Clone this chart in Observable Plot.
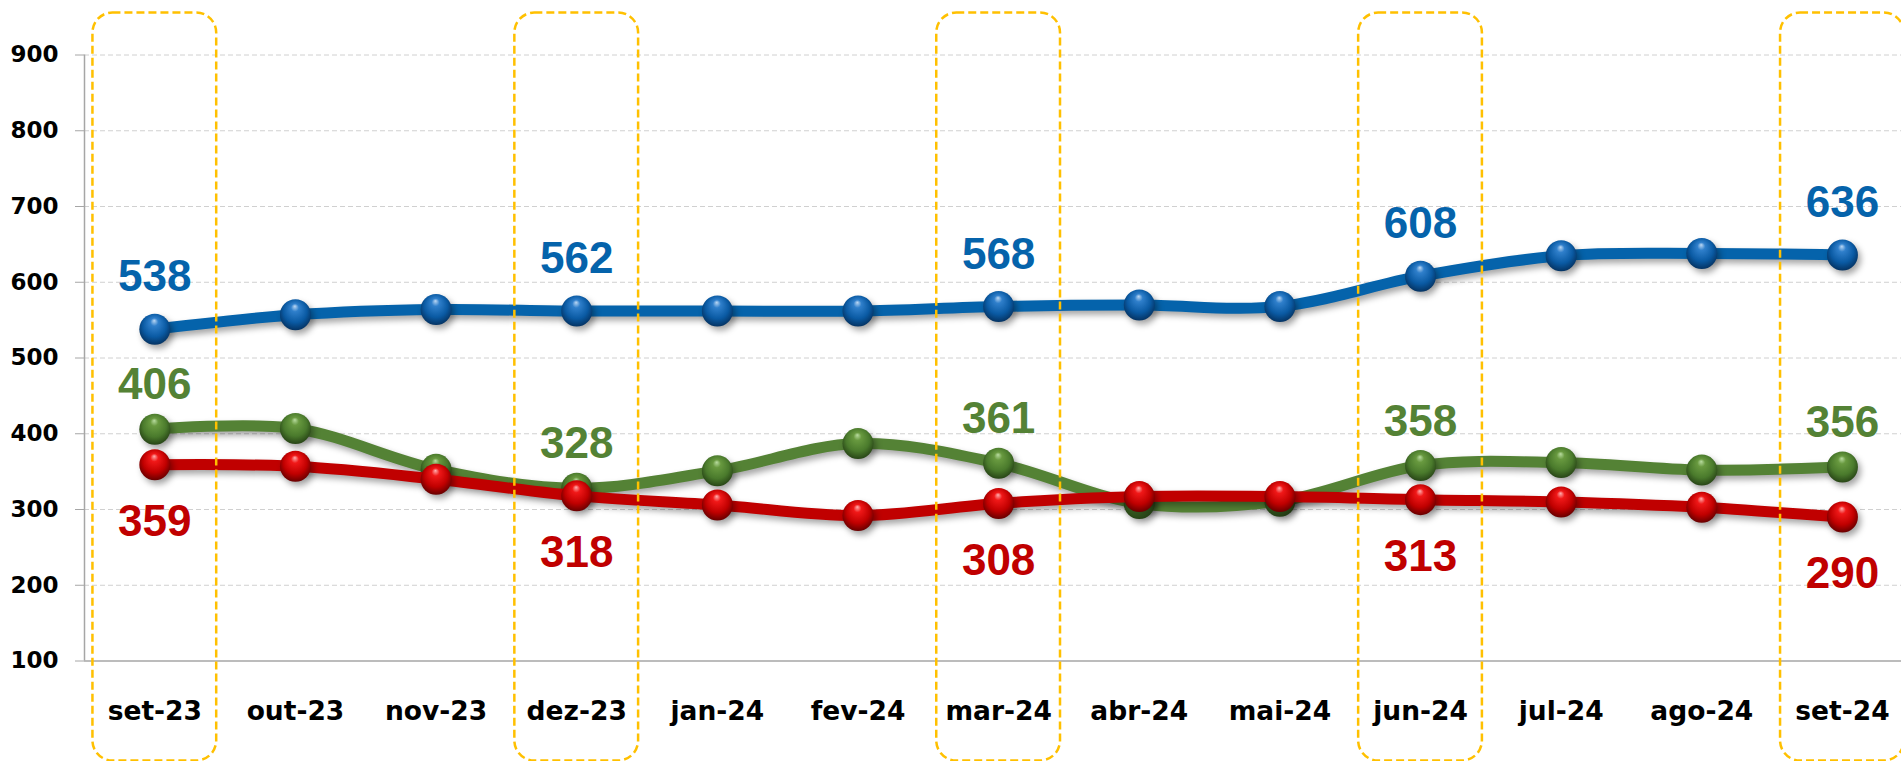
<!DOCTYPE html>
<html><head><meta charset="utf-8">
<script src="https://cdn.jsdelivr.net/npm/d3@7"></script>
<script src="https://cdn.jsdelivr.net/npm/@observablehq/plot@0.6"></script>
<style>html,body{margin:0;padding:0;background:#fff;overflow:hidden}</style>
</head><body><div id="chart"></div>
<script>
const months = ["set-23","out-23","nov-23","dez-23","jan-24","fev-24","mar-24","abr-24","mai-24","jun-24","jul-24","ago-24","set-24"];
const blueValues  = [538,557,564,562,562,562,568,570,568,608,635,638,636];
const greenValues = [406,407,353,328,351,387,361,308,311,358,362,352,356];
const redValues   = [359,357,340,318,306,292,308,317,317,313,310,303,290];
const highlightIdx = [0,3,6,9,12];
const yTicks = [100,200,300,400,500,600,700,800,900];

const series = [
  {key:"blue",  values: blueValues,  color:"#0563AB", grad:"gBlue",  dy:-52},
  {key:"green", values: greenValues, color:"#548235", grad:"gGreen", dy:-44},
  {key:"red",   values: redValues,   color:"#C00000", grad:"gRed",   dy:57}
];

const marks = [
  Plot.gridY(yTicks.slice(1), {stroke:"#d0d0d0", strokeOpacity:1, strokeDasharray:"5,3", strokeWidth:1}),
  Plot.ruleY([100], {stroke:"#a6a6a6", strokeWidth:1.5}),
  Plot.ruleX([-0.5], {y1:100, y2:900, stroke:"#a6a6a6", strokeWidth:1.5}),
  Plot.axisY({ticks:yTicks, tickSize:9, tickPadding:17, stroke:"#a6a6a6", fill:"#000", fontSize:23, fontWeight:"bold", fontFamily:"DejaVu Sans", label:null}),
  Plot.axisX({ticks:d3.range(months.length), tickFormat:i=>months[i], tickSize:0, tickPadding:40, fill:"#000", fontSize:26.5, fontWeight:"bold", fontFamily:"DejaVu Sans", label:null})
];
for (const s of series) {
  const data = s.values.map((v,i)=>({i, v}));
  marks.push(Plot.line(data, {x:"i", y:"v", stroke:s.color, strokeWidth:11, curve:"cardinal"}));
  marks.push(Plot.dot(data, {x:"i", y:"v", r:15.5, fill:`url(#${s.grad})`, stroke:"none"}));
}
marks.push(Plot.rect(highlightIdx, {x1:i=>i-0.44, x2:i=>i+0.44, insetTop:-42, insetBottom:-100, rx:20, fill:"none", stroke:"#FFC000", strokeWidth:2.5, strokeDasharray:"8,4"}));
for (const s of series) {
  marks.push(Plot.text(highlightIdx, {x:i=>i, y:i=>s.values[i], text:i=>String(s.values[i]), dy:s.dy, fill:s.color, fontSize:44, fontWeight:"bold", fontFamily:"Liberation Sans, Arial, sans-serif"}));
}

const svg = Plot.plot({
  width:1901, height:761,
  marginLeft:84, marginRight:0, marginTop:54.5, marginBottom:100.5,
  x:{type:"linear", domain:[-0.5, 12.42]},
  y:{domain:[100,900]},
  style:{background:"#fff", overflow:"visible"},
  marks
});

const defs = d3.select(svg).insert("defs", ":first-child");
function grad(id, c0, c1, c2, c3) {
  const g = defs.append("radialGradient").attr("id", id)
    .attr("cx","50%").attr("cy","45%").attr("r","58%").attr("fx","48%").attr("fy","22%");
  g.append("stop").attr("offset","0%").attr("stop-color", c0);
  g.append("stop").attr("offset","22%").attr("stop-color", c1);
  g.append("stop").attr("offset","65%").attr("stop-color", c2);
  g.append("stop").attr("offset","100%").attr("stop-color", c3);
}
grad("gBlue", "#bcd8f4", "#2f7fcb", "#0a5aa3", "#042f5c");
grad("gGreen","#b9dca0", "#68993f", "#4a7a2c", "#243f14");
grad("gRed",  "#ffb0b0", "#f01818", "#c00000", "#5e0000");
d3.select(svg).selectAll('g[aria-label="line"], g[aria-label="dot"]')
  .style("filter","drop-shadow(3px 4px 3px rgba(0,0,0,0.35))");

document.getElementById("chart").appendChild(svg);
</script></body></html>
